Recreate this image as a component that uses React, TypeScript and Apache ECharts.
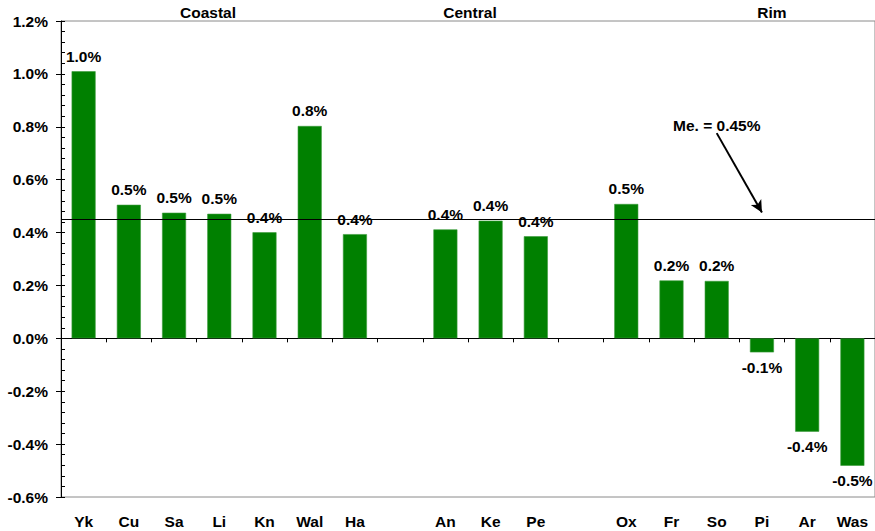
import React, { useEffect, useRef } from "react";
import * as echarts from "echarts";

const categories = ["Yk", "Cu", "Sa", "Li", "Kn", "Wal", "Ha", "", "An", "Ke", "Pe", " ", "Ox", "Fr", "So", "Pi", "Ar", "Was"];
const values: (number | null)[] = [1.01, 0.505, 0.475, 0.471, 0.401, 0.803, 0.394, null, 0.412, 0.445, 0.386, null, 0.508, 0.219, 0.217, -0.053, -0.353, -0.482];
const meanValue = 0.452;
const meanLabel = "Me. = 0.45%";
const arrowStart: [number, number] = [14, 0.776];
const arrowEnd: [number, number] = [15, 0.476];
const meanLabelPos: [number, number] = [14, 0.806];
const groupLabels = ["Coastal", "Central", "Rim"];
const groupLabelX = [208, 470, 772];
const yMin = -0.6;
const yMax = 1.2;
const yInterval = 0.2;

const FONT = "'Liberation Sans', Arial, sans-serif";
const FS = 15.5;

export default function App() {
  const ref = useRef<HTMLDivElement>(null);
  useEffect(() => {
    if (!ref.current) return;
    const chart = echarts.init(ref.current, null, { renderer: "svg" });
    const barData = values.map((v) =>
      v === null
        ? "-"
        : { value: v, label: { position: v < 0 ? "bottom" : "top" } }
    );
    chart.setOption({
      animation: false,
      backgroundColor: "#ffffff",
      textStyle: { fontFamily: FONT },
      grid: {
        left: 61,
        top: 21,
        width: 816,
        bottom: 34,
        show: true,
        borderColor: "#8a8a8a",
        borderWidth: 1,
        backgroundColor: "transparent",
      },
      graphic: groupLabels.map((t, i) => ({
        type: "text",
        x: groupLabelX[i],
        y: 12,
        style: {
          text: t,
          fill: "#000",
          font: `bold ${FS}px ${FONT}`,
          textAlign: "center",
          textVerticalAlign: "middle",
        },
      })),
      xAxis: [
        {
          type: "category",
          data: categories,
          position: "bottom",
          boundaryGap: true,
          axisLine: { show: true, onZero: true, lineStyle: { color: "#000", width: 1 } },
          axisTick: { show: true, length: 4, interval: 0, lineStyle: { color: "#000" } },
          axisLabel: { show: false },
          splitLine: { show: false },
        },
        {
          type: "category",
          data: categories,
          position: "bottom",
          boundaryGap: true,
          axisLine: { show: false, onZero: false },
          axisTick: { show: false },
          axisLabel: {
            show: true,
            interval: 0,
            margin: 16,
            color: "#000",
            fontWeight: "bold",
            fontSize: FS,
            fontFamily: FONT,
          },
          splitLine: { show: false },
        },
      ],
      yAxis: [
        {
          type: "value",
          min: yMin,
          max: yMax,
          interval: yInterval,
          position: "left",
          axisLine: { show: true, lineStyle: { color: "#000", width: 1 } },
          axisTick: { show: true, length: 5, lineStyle: { color: "#000" } },
          axisLabel: {
            margin: 13,
            color: "#000",
            fontWeight: "bold",
            fontSize: FS,
            fontFamily: FONT,
            formatter: (v: number) => v.toFixed(1) + "%",
          },
          splitLine: { show: false },
        },
        {
          type: "value",
          min: yMin,
          max: yMax,
          interval: yInterval,
          position: "left",
          axisLine: { show: false },
          axisTick: { show: true, inside: true, length: 4, lineStyle: { color: "#000" } },
          minorTick: { show: true, splitNumber: 5, length: 4, lineStyle: { color: "#000" } },
          axisLabel: { show: false },
          splitLine: { show: false },
        },
      ],
      series: [
        {
          type: "bar",
          xAxisIndex: 0,
          yAxisIndex: 0,
          data: barData,
          barWidth: 24,
          itemStyle: { color: "#008000", borderColor: "#3a9a3a", borderWidth: 0.6 },
          label: {
            show: true,
            distance: 7,
            color: "#000",
            fontWeight: "bold",
            fontSize: FS,
            fontFamily: FONT,
            formatter: (p: any) => Number(p.value).toFixed(1) + "%",
          },
          markLine: {
            silent: true,
            animation: false,
            data: [
              [
                {
                  yAxis: meanValue,
                  x: 61,
                  symbol: "none",
                  lineStyle: { color: "#000", width: 1, type: "solid" },
                  label: { show: false },
                },
                { yAxis: meanValue, x: 877, symbol: "none" },
              ],
              [
                {
                  coord: arrowStart,
                  symbol: "none",
                  lineStyle: { color: "#000", width: 2, type: "solid" },
                  label: { show: false },
                },
                { coord: arrowEnd, symbol: "arrow", symbolSize: [9, 12] },
              ],
            ],
          },
          markPoint: {
            silent: true,
            animation: false,
            data: [
              {
                coord: meanLabelPos,
                symbol: "circle",
                symbolSize: 0,
                itemStyle: { color: "transparent" },
                label: {
                  show: true,
                  position: "inside",
                  formatter: meanLabel,
                  color: "#000",
                  fontWeight: "bold",
                  fontSize: FS,
                  fontFamily: FONT,
                },
              },
            ],
          },
        },
      ],
    });
    return () => chart.dispose();
  }, []);
  return (
    <div
      ref={ref}
      style={{ position: "fixed", left: 0, top: 0, width: 875, height: 531 }}
    />
  );
}
